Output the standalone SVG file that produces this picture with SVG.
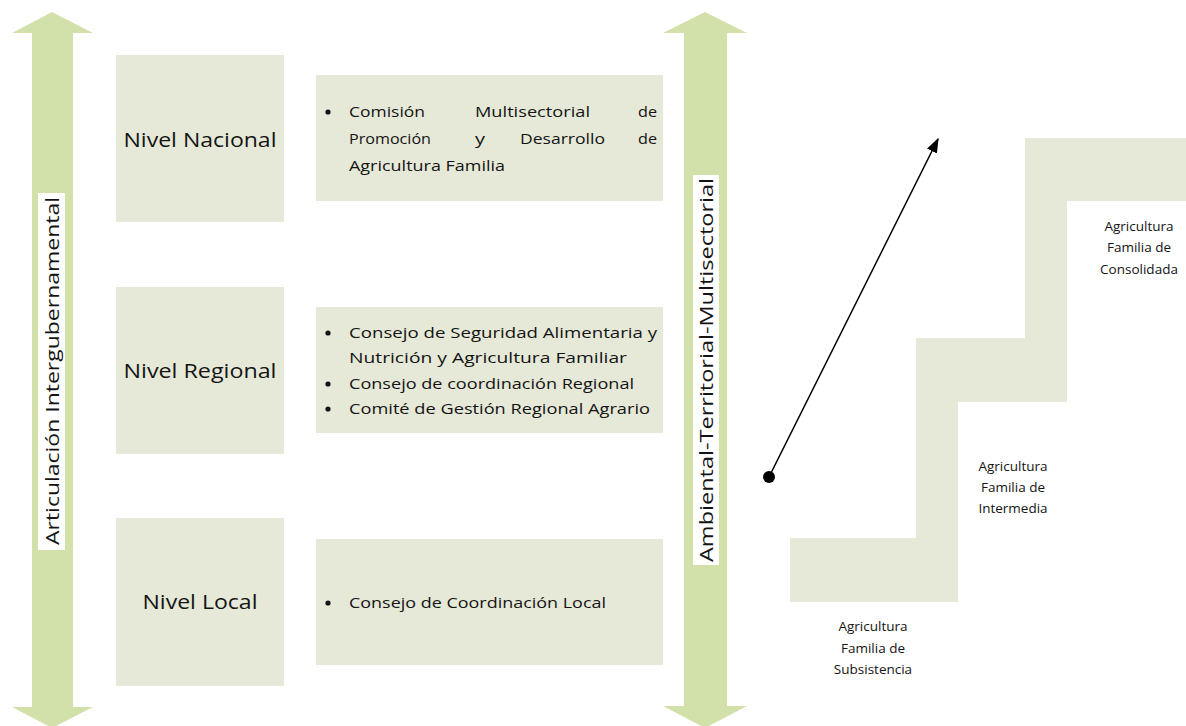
<svg xmlns="http://www.w3.org/2000/svg" width="1186" height="726" viewBox="0 0 1186 726">
<style>
.arrow{fill:#D2E0AA}
.box{fill:#E6E9D8}
.t{font-family:"Open Sans","Liberation Sans",sans-serif;fill:#141414}
.lvl{font-size:20px;text-anchor:middle}
.b{font-size:15px}
.s{font-size:13.5px;text-anchor:middle}
.v{font-size:19px;text-anchor:middle}
.dot{fill:#141414}
</style>
<rect width="1186" height="726" fill="#ffffff"/>
<g id="arrow-left">
<polygon class="arrow" points="52,12 93,33 73,33 73,707 93,707 52,728 12,707 32,707 32,33 12,33"/>
<rect x="38" y="193" width="27" height="357" fill="#ffffff"/>
<text class="t v" transform="translate(59,371) rotate(-90)" textLength="348" lengthAdjust="spacingAndGlyphs">Articulación Intergubernamental</text>
</g>
<g id="arrow-mid">
<polygon class="arrow" points="705,12 747,33 727,33 727,706 747,706 705,728 663,706 684,706 684,33 663,33"/>
<rect x="693" y="175" width="26" height="390" fill="#ffffff"/>
<text class="t v" transform="translate(713,370) rotate(-90)" textLength="384" lengthAdjust="spacingAndGlyphs">Ambiental-Territorial-Multisectorial</text>
</g>
<g id="nivel-nacional">
<rect class="box" x="116" y="55" width="168" height="167"/>
<text class="t lvl" x="200" y="147" textLength="153" lengthAdjust="spacingAndGlyphs">Nivel Nacional</text>
</g>
<g id="nivel-regional">
<rect class="box" x="116" y="287" width="168" height="167"/>
<text class="t lvl" x="200" y="378" textLength="153" lengthAdjust="spacingAndGlyphs">Nivel Regional</text>
</g>
<g id="nivel-local">
<rect class="box" x="116" y="518" width="168" height="168"/>
<text class="t lvl" x="200" y="609" textLength="115" lengthAdjust="spacingAndGlyphs">Nivel Local</text>
</g>
<g id="box-nacional">
<rect class="box" x="316" y="75" width="347" height="126"/>
<circle class="dot" cx="328" cy="112" r="2.6"/>
<text class="t b" x="349" y="117" textLength="76" lengthAdjust="spacingAndGlyphs">Comisión</text>
<text class="t b" x="475" y="117" textLength="115" lengthAdjust="spacingAndGlyphs">Multisectorial</text>
<text class="t b" x="638" y="117" textLength="19" lengthAdjust="spacingAndGlyphs">de</text>
<text class="t b" x="349" y="144" textLength="82" lengthAdjust="spacingAndGlyphs">Promoción</text>
<text class="t b" x="475" y="144" textLength="10" lengthAdjust="spacingAndGlyphs">y</text>
<text class="t b" x="520" y="144" textLength="85" lengthAdjust="spacingAndGlyphs">Desarrollo</text>
<text class="t b" x="638" y="144" textLength="19" lengthAdjust="spacingAndGlyphs">de</text>
<text class="t b" x="349" y="171" textLength="156" lengthAdjust="spacingAndGlyphs">Agricultura Familia</text>
</g>
<g id="box-regional">
<rect class="box" x="316" y="307" width="347" height="126"/>
<circle class="dot" cx="328" cy="333" r="2.6"/>
<text class="t b" x="349" y="338" textLength="308" lengthAdjust="spacingAndGlyphs">Consejo de Seguridad Alimentaria y</text>
<text class="t b" x="349" y="363" textLength="278" lengthAdjust="spacingAndGlyphs">Nutrición y Agricultura Familiar</text>
<circle class="dot" cx="328" cy="384" r="2.6"/>
<text class="t b" x="349" y="389" textLength="285" lengthAdjust="spacingAndGlyphs">Consejo de coordinación Regional</text>
<circle class="dot" cx="328" cy="409" r="2.6"/>
<text class="t b" x="349" y="414" textLength="301" lengthAdjust="spacingAndGlyphs">Comité de Gestión Regional Agrario</text>
</g>
<g id="box-local">
<rect class="box" x="316" y="539" width="347" height="126"/>
<circle class="dot" cx="328" cy="603" r="2.6"/>
<text class="t b" x="349" y="608" textLength="257" lengthAdjust="spacingAndGlyphs">Consejo de Coordinación Local</text>
</g>
<g id="stairs">
<polygon class="box" points="790,538 916,538 916,338 1025,338 1025,138 1186,138 1186,201 1067,201 1067,402 958,402 958,602 790,602"/>
</g>
<g id="label-consolidada">
<text class="t s" x="1139" y="231">Agricultura</text>
<text class="t s" x="1139" y="252">Familia de</text>
<text class="t s" x="1139" y="274">Consolidada</text>
</g>
<g id="label-intermedia">
<text class="t s" x="1013" y="471">Agricultura</text>
<text class="t s" x="1013" y="492">Familia de</text>
<text class="t s" x="1013" y="513">Intermedia</text>
</g>
<g id="label-subsistencia">
<text class="t s" x="873" y="631">Agricultura</text>
<text class="t s" x="873" y="653">Familia de</text>
<text class="t s" x="873" y="674">Subsistencia</text>
</g>
<defs>
<marker id="ah" viewBox="0 0 10 10" refX="9" refY="5" markerWidth="15" markerHeight="11" markerUnits="userSpaceOnUse" orient="auto" preserveAspectRatio="none">
<path d="M0,0 L10,5 L0,10 z" fill="#000"/>
</marker>
</defs>
<g id="connectors">
<line x1="769" y1="477" x2="938" y2="139" stroke="#000" stroke-width="1.5" marker-end="url(#ah)"/>
<circle cx="769" cy="477" r="6" fill="#000"/>
</g>
</svg>
